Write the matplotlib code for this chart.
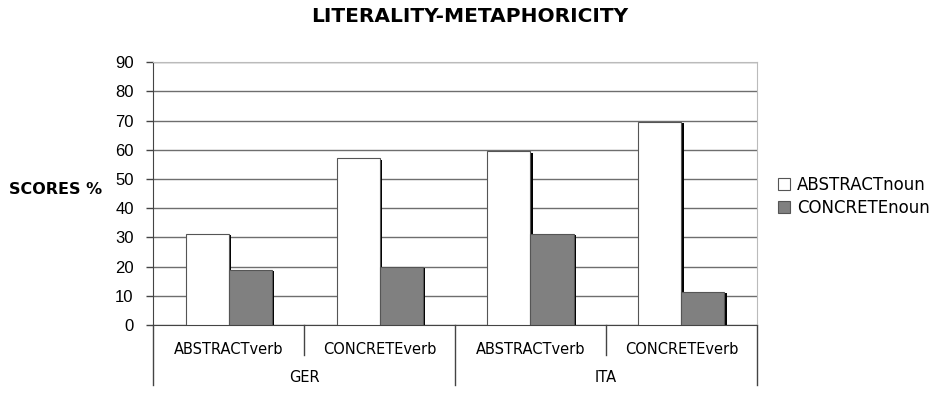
import numpy as np
import matplotlib
matplotlib.use("Agg")
import matplotlib.pyplot as plt
import matplotlib.patheffects as pe

plt.rcParams['font.family'] = ['Liberation Sans', 'DejaVu Sans']
wide = ['DejaVu Sans']  # wider face to mimic the spaced-out Excel lettering

# data
languages = ["GER", "ITA"]
verb_types = ["ABSTRACTverb", "CONCRETEverb"]
abstract_noun = [31.3, 57.0, 59.4, 69.6]
concrete_noun = [18.8, 20.0, 31.3, 11.3]
series_names = ["ABSTRACTnoun", "CONCRETEnoun"]

fig = plt.figure(figsize=(9.45, 3.93), dpi=100)
ax = fig.add_axes([0.162, 0.173, 0.639, 0.669])

x = np.arange(len(abstract_noun))
w = 0.285
shadow = [pe.SimplePatchShadow(offset=(2, -1), shadow_rgbFace='black', alpha=1.0), pe.Normal()]

b1 = ax.bar(x - w/2, abstract_noun, w, color='white', edgecolor='#555555', linewidth=0.8,
            label=series_names[0], zorder=3)
b2 = ax.bar(x + w/2, concrete_noun, w, color='#808080', edgecolor='#555555', linewidth=0.8,
            label=series_names[1], zorder=3)
for b in list(b1) + list(b2):
    b.set_path_effects(shadow)

ax.set_xlim(-0.5, len(x) - 0.5)
ax.set_ylim(0, 90)
ax.set_yticks(range(0, 91, 10))
ax.yaxis.grid(True, color='#6e6e6e', linewidth=1.0, zorder=0)
ax.set_axisbelow(True)
ax.tick_params(axis='y', labelsize=12, length=5, width=1, color='#444444', pad=9)

for s in ['top', 'right']:
    ax.spines[s].set_color('#bbbbbb')
ax.spines['left'].set_color('#444444')
ax.spines['bottom'].set_color('#444444')

# multi-level category axis
ax.set_xticks([])
trans = ax.get_xaxis_transform()
for i in x:
    ax.text(i, -0.095, verb_types[i % 2], transform=trans, ha='center', va='center',
            fontsize=10.5, family=wide)
for b in [0.5, 2.5]:
    ax.plot([b, b], [0, -0.115], transform=trans, color='#444444', lw=1, clip_on=False)
for b in [-0.5, 1.5, 3.5]:
    ax.plot([b, b], [0, -0.23], transform=trans, color='#444444', lw=1, clip_on=False)
for k, lang in enumerate(languages):
    ax.text(2*k + 0.5, -0.2, lang, transform=trans, ha='center', va='center',
            fontsize=10.5, family=wide)

fig.text(0.497, 0.958, "LITERALITY-METAPHORICITY", ha='center', va='center',
         fontsize=14.5, fontweight='bold', family=wide)
fig.text(0.009, 0.517, "SCORES %", ha='left', va='center', fontsize=11.5,
         fontweight='bold', family=wide)

leg = fig.legend(handles=[b1, b2], labels=series_names, loc='center left',
                 bbox_to_anchor=(0.807, 0.501), frameon=False,
                 prop={'family': wide, 'size': 12},
                 handlelength=0.75, handleheight=0.75, handletextpad=0.4, labelspacing=0.3)
for h in leg.legend_handles:
    h.set_path_effects([])

fig.savefig("out.png", dpi=100)
